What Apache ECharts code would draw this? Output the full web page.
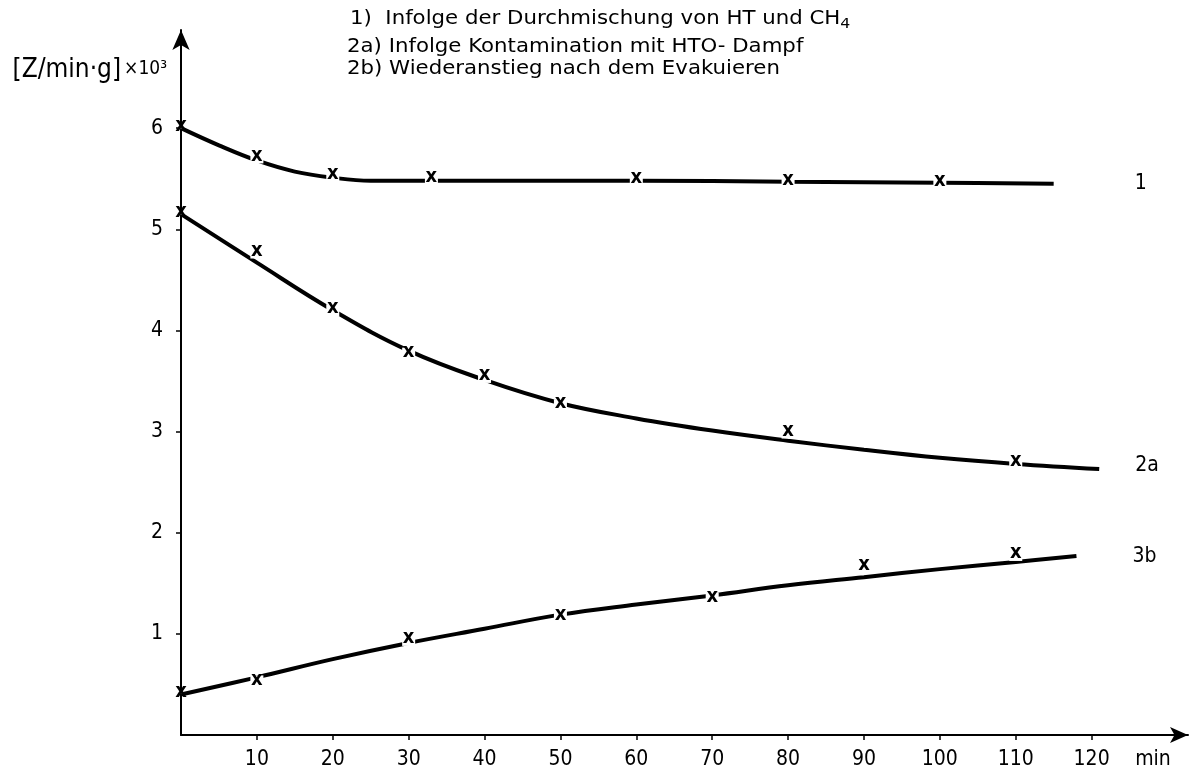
<!DOCTYPE html>
<html>
<head>
<meta charset="utf-8">
<script src="https://cdn.jsdelivr.net/npm/echarts@6/dist/echarts.min.js"></script>
<style>
  html, body { margin: 0; padding: 0; background: #fff; }
  #chart { width: 1189px; height: 772px; }
</style>
</head>
<body>
<div id="chart"></div>
<script>
// Kurven (geglättete Linien) und Messpunkte (x)
var curve1 = [[0, 6.0], [5, 5.83], [10, 5.68], [15, 5.57], [20, 5.51], [25, 5.48], [33, 5.48], [60, 5.48], [80, 5.47], [100, 5.46], [115, 5.45]]
var curve2a = [[0, 5.15], [10, 4.67], [20, 4.2], [30, 3.8], [40, 3.51], [50, 3.28], [60, 3.13], [70, 3.01], [80, 2.91], [90, 2.82], [100, 2.74], [110, 2.68], [121, 2.63]]
var curve3b = [[0, 0.4], [10, 0.57], [20, 0.75], [30, 0.91], [40, 1.05], [50, 1.19], [60, 1.29], [70, 1.38], [80, 1.48], [90, 1.56], [100, 1.64], [110, 1.71], [118, 1.77]]

var points1 = [[0, 6.0], [10, 5.71], [20, 5.53], [33, 5.5], [60, 5.49], [80, 5.47], [100, 5.46]]
var points2a = [[0, 5.15], [10, 4.77], [20, 4.2], [30, 3.77], [40, 3.54], [50, 3.26], [80, 2.99], [110, 2.69]]
var points3b = [[0, 0.41], [10, 0.53], [30, 0.94], [50, 1.17], [70, 1.35], [90, 1.66], [110, 1.78]]

var xTicks = [10, 20, 30, 40, 50, 60, 70, 80, 90, 100, 110, 120]
var yTicks = [1, 2, 3, 4, 5, 6]

var curveNames = ['1', '2a', '3b']
var notes = ['1)  Infolge der Durchmischung von HT und CH', '2a) Infolge Kontamination mit HTO- Dampf', '2b) Wiederanstieg nach dem Evakuieren']

var FONT = "'DejaVu Sans Condensed', 'DejaVu Sans', sans-serif"
var NOTE_FONT = "'DejaVu Sans', sans-serif"

var chart = echarts.init(document.getElementById('chart'))

function lineSeries (name, data, offset) {
  return {
    name: name,
    type: 'line',
    data: data,
    smooth: 0.4,
    showSymbol: false,
    lineStyle: { color: '#000', width: 4 },
    endLabel: {
      show: true,
      formatter: name,
      distance: 0,
      offset: offset,
      color: '#000',
      fontSize: 21,
      fontFamily: FONT
    },
    z: 2
  }
}

// weisses Kästchen unterbricht die Kurve, darauf das x (nicht auf der y-Achse)
function pointSeries (data) {
  return {
    type: 'scatter',
    data: data,
    symbol: 'rect',
    symbolSize: function (val) { return val[0] === 0 ? [1, 1] : [13, 12] },
    itemStyle: { color: '#fff', opacity: 1 },
    label: {
      show: true,
      position: 'inside',
      formatter: 'x',
      color: '#000',
      textBorderWidth: 0,
      fontSize: 20,
      fontWeight: 'bold',
      fontFamily: FONT,
      offset: [0, -2]
    },
    emphasis: { disabled: true },
    z: 5
  }
}

var option = {
  backgroundColor: '#fff',
  animation: false,
  grid: { left: 181, right: 1, top: 30, bottom: 37, containLabel: false, outerBoundsMode: 'none' },
  xAxis: {
    type: 'value',
    min: 0,
    max: 132.7,
    interval: 10,
    name: 'min',
    nameLocation: 'end',
    nameGap: -35,
    nameTextStyle: { color: '#000', fontSize: 21, fontFamily: FONT, align: 'center', verticalAlign: 'top', padding: [14, 0, 0, 0] },
    axisLine: { lineStyle: { color: '#000', width: 2 }, symbol: ['none', 'arrow'], symbolSize: [12, 18] },
    axisTick: { length: 5, customValues: xTicks, lineStyle: { color: '#000', width: 1.5 } },
    axisLabel: { color: '#000', fontSize: 21, fontFamily: FONT, margin: 14, customValues: xTicks },
    splitLine: { show: false }
  },
  yAxis: {
    type: 'value',
    min: 0,
    max: 6.97,
    interval: 1,
    name: '{a|[Z/min·g]}{b|×10³}',
    nameLocation: 'end',
    nameGap: -40,
    nameTextStyle: {
      align: 'right', verticalAlign: 'middle', padding: [0, 14, 0, 0],
      rich: {
        a: { color: '#000', fontSize: 26, fontFamily: FONT },
        b: { color: '#000', fontSize: 19, fontFamily: FONT, padding: [0, 0, 2, 3] }
      }
    },
    axisLine: { lineStyle: { color: '#000', width: 2 }, symbol: ['none', 'arrow'], symbolSize: [13, 20] },
    axisTick: { length: 5, customValues: yTicks, lineStyle: { color: '#000', width: 1.5 } },
    axisLabel: { color: '#000', fontSize: 21, fontFamily: FONT, margin: 18, customValues: yTicks },
    splitLine: { show: false }
  },
  graphic: [
    {
      type: 'text', x: 350, y: 19, scaleX: 1.12,
      style: {
        text: notes[0] + '{s|4}', fill: '#000', font: '19px ' + NOTE_FONT, verticalAlign: 'middle',
        rich: { s: { fontSize: 14, fontFamily: NOTE_FONT, padding: [10, 0, 0, 0] } }
      }
    },
    { type: 'text', x: 347, y: 47, scaleX: 1.12, style: { text: notes[1], fill: '#000', font: '19px ' + NOTE_FONT, verticalAlign: 'middle' } },
    { type: 'text', x: 347, y: 69, scaleX: 1.12, style: { text: notes[2], fill: '#000', font: '19px ' + NOTE_FONT, verticalAlign: 'middle' } }
  ],
  series: [
    lineSeries(curveNames[0], curve1, [81, 0]),
    lineSeries(curveNames[1], curve2a, [36, -3]),
    lineSeries(curveNames[2], curve3b, [56, 1]),
    pointSeries(points1),
    pointSeries(points2a),
    pointSeries(points3b)
  ]
}

chart.setOption(option)
</script>
</body>
</html>
